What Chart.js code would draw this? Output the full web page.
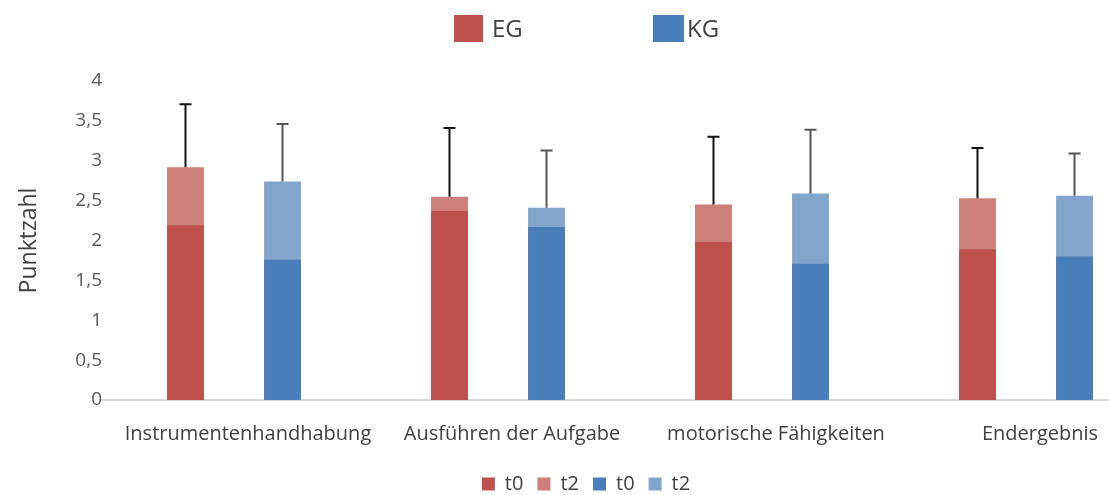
<!DOCTYPE html>
<html>
<head>
<meta charset="utf-8">
<script src="https://cdn.jsdelivr.net/npm/chart.js@4"></script>
<style>
  html, body { margin: 0; padding: 0; background: #fff; overflow: hidden; }
  #wrap { position: relative; width: 1160px; height: 495px; }
  .lg { position: absolute; font-family: "Open Sans", sans-serif; font-size: 24px; color: #404040; }
  .sq { position: absolute; }
</style>
</head>
<body>
<div id="wrap">
  <canvas id="myChart"></canvas>
  <div class="sq" style="left:454px;top:15px;width:29px;height:27px;background:#BE504D"></div>
  <div class="lg" id="lgEG" style="left:492px;top:11px"></div>
  <div class="sq" style="left:653px;top:15px;width:31px;height:27px;background:#4A7EB9"></div>
  <div class="lg" id="lgKG" style="left:687px;top:11px"></div>
</div>
<script>
const categories = ['Instrumentenhandhabung', 'Ausführen der Aufgabe', 'motorische Fähigkeiten', 'Endergebnis'];
const groups = ['EG', 'KG'];
const egT0 = [2.19, 2.37, 1.98, 1.89];
const egT2 = [2.92, 2.55, 2.45, 2.53];
const egSd = [0.79, 0.86, 0.85, 0.63];
const kgT0 = [1.76, 2.17, 1.71, 1.80];
const kgT2 = [2.74, 2.41, 2.59, 2.56];
const kgSd = [0.72, 0.72, 0.80, 0.53];
const yTicks = ['0', '0,5', '1', '1,5', '2', '2,5', '3', '3,5', '4'];

document.getElementById('lgEG').textContent = groups[0];
document.getElementById('lgKG').textContent = groups[1];

const sdBySet = { 1: egSd, 3: kgSd };
const errColor = { 1: '#111111', 3: '#555555' };

// upward-only error bars on top of the t2 bars
const errorBars = {
  id: 'errorBars',
  afterDatasetsDraw(chart) {
    const ctx = chart.ctx;
    const y = chart.scales.y;
    Object.keys(sdBySet).forEach(i => {
      const ds = chart.data.datasets[i];
      const meta = chart.getDatasetMeta(i);
      meta.data.forEach((bar, j) => {
        const top = y.getPixelForValue(ds.data[j] + sdBySet[i][j]);
        ctx.save();
        ctx.strokeStyle = errColor[i];
        ctx.lineWidth = 2;
        ctx.beginPath();
        ctx.moveTo(bar.x, bar.y);
        ctx.lineTo(bar.x, top);
        ctx.moveTo(bar.x - 6, top);
        ctx.lineTo(bar.x + 6, top);
        ctx.stroke();
        ctx.restore();
      });
    });
  }
};

const font = "'Open Sans', sans-serif";
const ctx = document.getElementById('myChart');
const myChart = new Chart(ctx, {
  type: 'bar',
  data: {
    labels: categories,
    datasets: [
      { label: 't0', data: egT0, stack: 'EG', backgroundColor: '#BE504D' },
      { label: 't2', data: egT2, stack: 'EG', backgroundColor: '#CD7F7A' },
      { label: 't0', data: kgT0, stack: 'KG', backgroundColor: '#4A7EB9' },
      { label: 't2', data: kgT2, stack: 'KG', backgroundColor: '#82A5CC' }
    ]
  },
  options: {
    responsive: true,
    maintainAspectRatio: false,
    animation: false,
    categoryPercentage: 0.735,
    barPercentage: 0.38,
    layout: { padding: { left: 14, top: 81, right: 2, bottom: -9 } },
    plugins: {
      tooltip: { enabled: false },
      legend: {
        position: 'bottom',
        labels: {
          boxWidth: 13, boxHeight: 13, padding: 14,
          color: '#404040',
          font: { family: font, size: 20 }
        }
      }
    },
    scales: {
      x: {
        stacked: true,
        grid: { display: false },
        border: { color: '#d9d9d9', width: 2 },
        ticks: {
          color: '#404040',
          padding: 14,
          labelOffset: 14,
          maxRotation: 0,
          autoSkip: false,
          font: { family: font, size: 20 }
        }
      },
      y: {
        stacked: false,
        min: 0,
        max: 4,
        grid: { display: false, drawTicks: false },
        border: { display: false },
        afterFit(scale) { scale.width = 88; },
        ticks: {
          stepSize: 0.5,
          padding: 0,
          color: '#595959',
          font: { family: font, size: 19 },
          callback: (v, i) => yTicks[i]
        },
        title: {
          display: true,
          text: 'Punktzahl',
          color: '#404040',
          padding: { top: 2, bottom: 4 },
          font: { family: font, size: 23 }
        }
      }
    }
  },
  plugins: [errorBars]
});
</script>
</body>
</html>
